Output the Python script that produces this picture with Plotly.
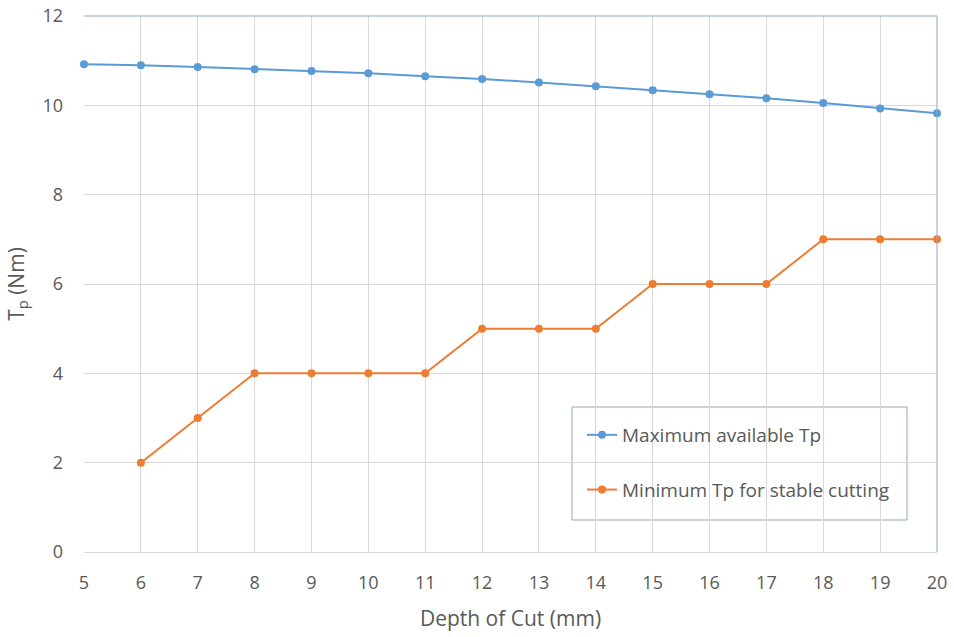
import plotly.graph_objects as go

# Depth of cut (mm)
depth = list(range(5, 21))
depth_min = list(range(6, 21))

# Maximum available Tp (Nm)
tp_max = [10.92, 10.90, 10.86, 10.81, 10.77, 10.72, 10.65, 10.59,
          10.51, 10.43, 10.34, 10.25, 10.16, 10.05, 9.93, 9.82]

# Minimum Tp for stable cutting (Nm)
tp_min = [2, 3, 4, 4, 4, 4, 5, 5, 5, 6, 6, 6, 7, 7, 7]

BLUE = "#5B9BD5"
ORANGE = "#ED7D31"
TEXT = "#595959"
GRID = "#D9D9D9"
FRAME = "#8EA9C1"
FONT = "Open Sans, Noto Sans, sans-serif"

fig = go.Figure()
fig.add_trace(go.Scatter(
    x=depth, y=tp_max, mode="lines+markers", name="Maximum available Tp",
    line=dict(color=BLUE, width=2), marker=dict(color=BLUE, size=8),
    legendgroup="a", cliponaxis=False,
))
fig.add_trace(go.Scatter(
    x=depth_min, y=tp_min, mode="lines+markers", name="Minimum Tp for stable cutting",
    line=dict(color=ORANGE, width=2), marker=dict(color=ORANGE, size=8),
    legendgroup="b", cliponaxis=False,
))

fig.update_layout(
    width=954, height=637,
    margin=dict(l=84, r=17, t=16, b=85),
    paper_bgcolor="white", plot_bgcolor="white",
    font=dict(family=FONT, color=TEXT, size=18),
    showlegend=True,
    legend=dict(
        x=(582 - 84) / 853, y=(552 - 416) / 536, xanchor="left", yanchor="top",
        bgcolor="rgba(0,0,0,0)", borderwidth=0,
        font=dict(size=19, color=TEXT),
        traceorder="grouped", tracegroupgap=27,
        itemwidth=30,
    ),
    xaxis=dict(
        range=[5, 20], tickmode="linear", tick0=5, dtick=1,
        showgrid=True, gridcolor=GRID, gridwidth=1,
        showline=True, linecolor=GRID, linewidth=1,
        zeroline=False, ticks="", ticklabelstandoff=14,
        automargin=False,
        title=dict(text="Depth of Cut (mm)", font=dict(size=21, color=TEXT), standoff=18),
    ),
    yaxis=dict(
        range=[0, 12], tickmode="linear", tick0=0, dtick=2,
        showgrid=True, gridcolor=GRID, gridwidth=1,
        showline=False, zeroline=False, ticks="", ticklabelstandoff=20,
        automargin=False,
        title=dict(text="T<sub>p</sub> (Nm)", font=dict(size=21, color=TEXT), standoff=12),
    ),
    shapes=[
        # plot-area frame on top and right
        dict(type="line", xref="paper", yref="paper", x0=0, x1=1, y0=1, y1=1,
             line=dict(color=FRAME, width=1)),
        dict(type="line", xref="paper", yref="paper", x0=1, x1=1, y0=0, y1=1,
             line=dict(color=FRAME, width=1)),
        # legend box
        dict(type="rect", xref="paper", yref="paper",
             x0=(572 - 84) / 853, x1=(907 - 84) / 853,
             y0=(552 - 520) / 536, y1=(552 - 407) / 536,
             line=dict(color=FRAME, width=1), fillcolor="rgba(0,0,0,0)", layer="below"),
    ],
)

fig.write_html("out.html")
